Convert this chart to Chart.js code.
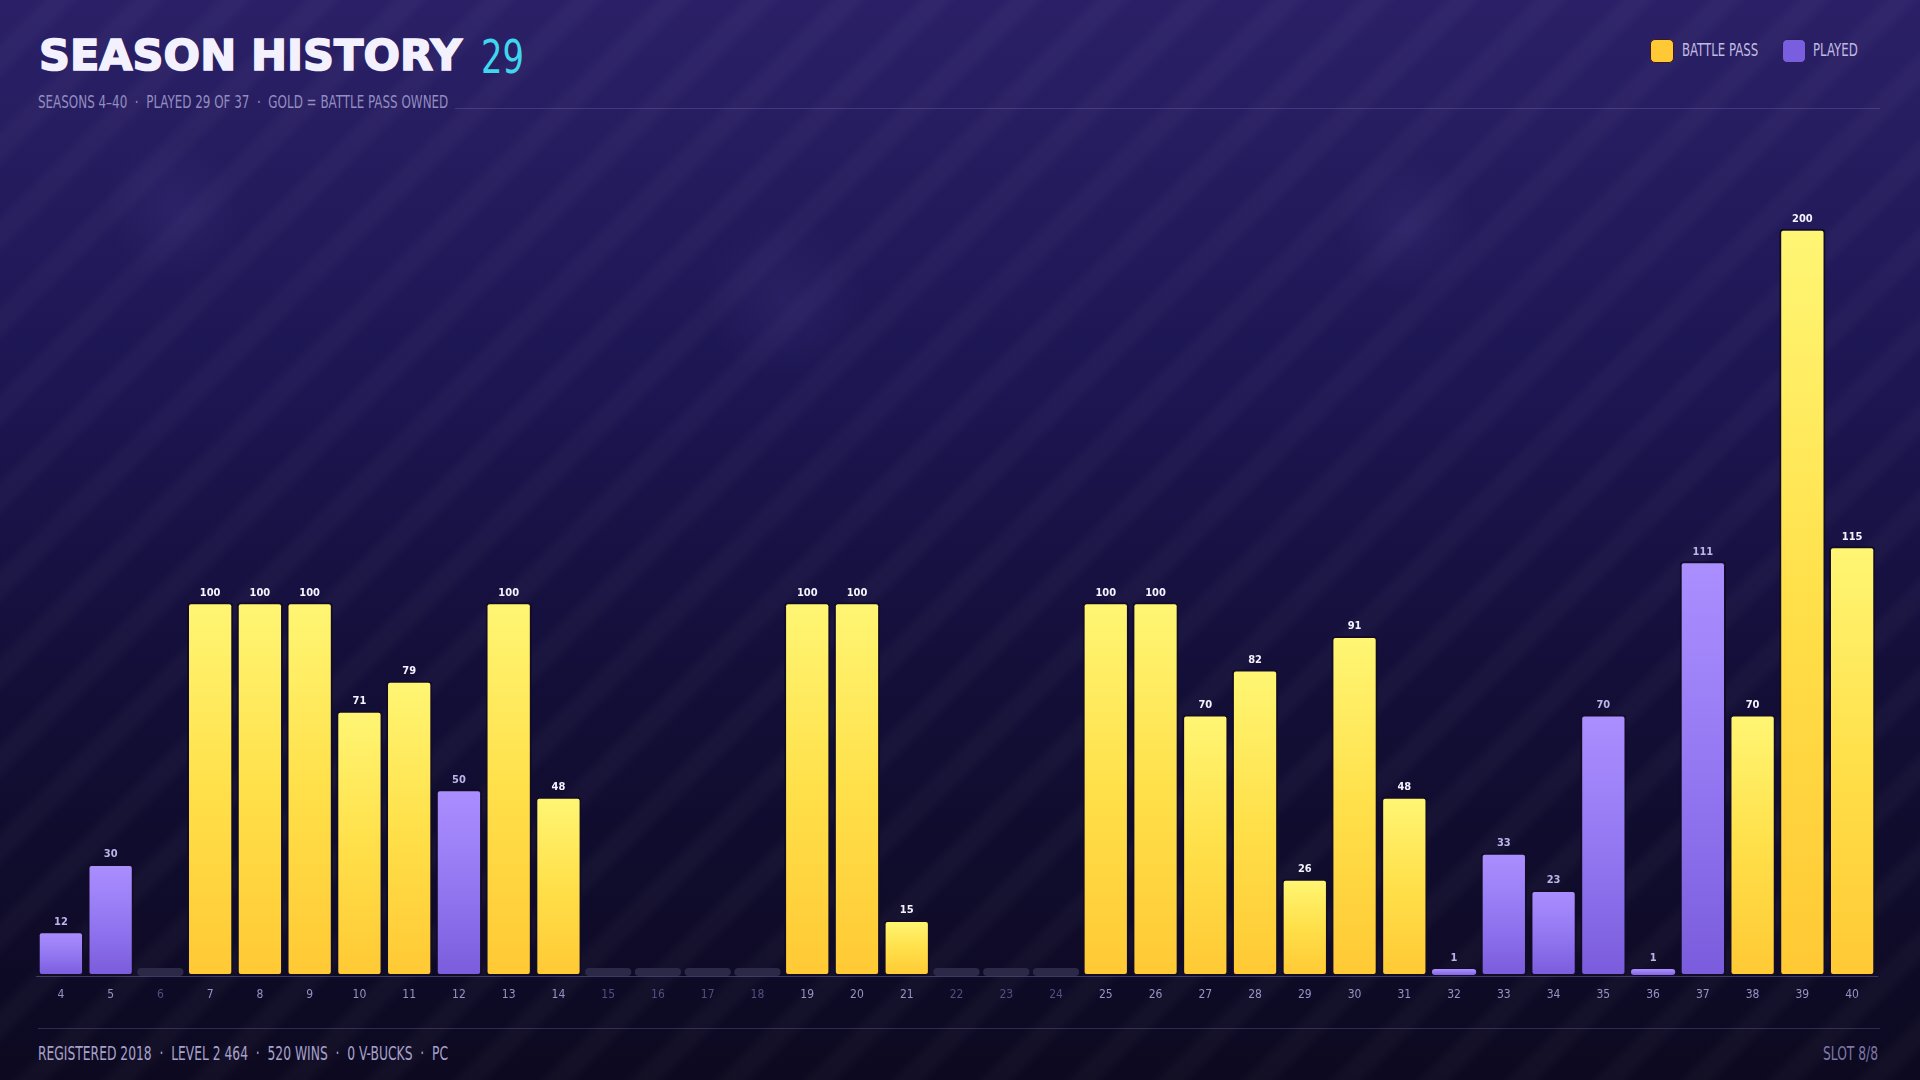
<!DOCTYPE html>
<html>
<head>
<meta charset="utf-8">
<script src="https://cdn.jsdelivr.net/npm/chart.js@4/dist/chart.umd.min.js"></script>
<style>
  html, body { margin: 0; padding: 0; }
  body {
    width: 1920px; height: 1080px; overflow: hidden; position: relative;
    background:
      radial-gradient(circle at 175px 210px, rgba(120,100,200,0.10) 0, rgba(120,100,200,0) 70px),
      radial-gradient(circle at 785px 300px, rgba(120,100,200,0.10) 0, rgba(120,100,200,0) 80px),
      radial-gradient(circle at 1405px 225px, rgba(120,100,200,0.10) 0, rgba(120,100,200,0) 70px),
      repeating-linear-gradient(135deg, rgba(255,255,255,0) 0 26px, rgba(255,255,255,0.028) 36px 48px, rgba(255,255,255,0) 58px 62px),
      linear-gradient(180deg, #2b2067 0%, #1d1653 35%, #130e36 65%, #0c0920 100%);
    font-family: "DejaVu Sans Condensed", "Liberation Sans Narrow", sans-serif;
  }
  #chart { position: absolute; left: 0; top: 0; }
  .title { position: absolute; left: 39px; top: 30px; font-family: "DejaVu Sans", sans-serif; font-weight: bold;
    font-size: 43px; color: #f4f1ff; -webkit-text-stroke: 1.6px #f4f1ff; }
  .narrow { transform-origin: left center; white-space: pre; }
  .count { position: absolute; left: 481px; top: 29px; font-size: 47px; color: #3fd6ee; transform: scaleX(0.8); }
  .sub { position: absolute; left: 38px; top: 92px; font-size: 17px; color: #938dc0; transform: scaleX(0.78); }
  .hline { position: absolute; height: 1px; background: rgba(140,125,210,0.28); }
  .legend { position: absolute; top: 38px; left: 1650px; font-size: 17px; color: #c0bbe0; }
  .legend .sw { position: absolute; top: 1px; width: 22px; height: 22px; border-radius: 5px; border: 1px solid #3a1a20; }
  .legend .lt { position: absolute; top: 2px; transform: scaleX(0.77); }
  .foot { position: absolute; top: 1042px; font-size: 19px; color: #a7a2cc; transform: scaleX(0.72); }
</style>
</head>
<body>
<div class="title">SEASON HISTORY</div>
<div class="count narrow" id="count"></div>
<div class="sub narrow" id="sub"></div>
<div class="hline" style="left:455px; width:1425px; top:108px;"></div>
<div class="legend">
  <div class="sw" style="left:0; background:#ffc935"></div>
  <div class="lt narrow" style="left:32px;">BATTLE PASS</div>
  <div class="sw" style="left:132px; background:#7a5ee0; border-color:#2a1d5a"></div>
  <div class="lt narrow" style="left:163px;">PLAYED</div>
</div>
<div class="hline" style="left:38px; width:1842px; top:1028px;"></div>
<div class="foot narrow" id="footLeft" style="left:38px;"></div>
<div class="foot narrow" style="left:1823px; color:#7e78a8;">SLOT 8/8</div>
<canvas id="chart" width="1920" height="1080"></canvas>

<script>
// seasons 4..40
const seasons = ['4','5','6','7','8','9','10','11','12','13','14','15','16','17','18','19','20','21','22',
  '23','24','25','26','27','28','29','30','31','32','33','34','35','36','37','38','39','40']
// level reached each season (0 = not played)
const levels = [12, 30, 0, 100, 100, 100, 71, 79, 50, 100, 48, 0, 0, 0, 0, 100, 100, 15, 0,
  0, 0, 100, 100, 70, 82, 26, 91, 48, 1, 33, 23, 70, 1, 111, 70, 200, 115]
// seasons with the battle pass owned
const battlePass = ['7','8','9','10','11','13','14','19','20','21','25','26','27','28','29','30','31','38','39','40']

const played = levels.filter(v => v > 0).length
document.querySelector('#count').innerText = played
document.querySelector('#sub').innerText = `SEASONS 4–40  ·  PLAYED ${played} OF ${seasons.length}  ·  GOLD = BATTLE PASS OWNED`
document.querySelector('#footLeft').innerText = 'REGISTERED 2018  ·  LEVEL 2 464  ·  520 WINS  ·  0 V-BUCKS  ·  PC'

const NARROW = '"DejaVu Sans Condensed", "Liberation Sans Narrow", sans-serif'

function barFill(context) {
  let i = context.dataIndex
  let v = levels[i]
  if (!v) return '#2c2848'
  let chart = context.chart
  let gold = battlePass.includes(seasons[i])
  if (!chart.chartArea) return gold ? '#ffd23f' : '#8b6ef0'
  let y = chart.scales.y
  let bottom = y.getPixelForValue(0)
  let top = Math.min(y.getPixelForValue(v), bottom - 7)
  let g = chart.ctx.createLinearGradient(0, top, 0, bottom)
  if (gold) {
    g.addColorStop(0, '#fff674')
    g.addColorStop(0.5, '#ffe04a')
    g.addColorStop(1, '#ffc934')
  } else {
    g.addColorStop(0, '#ab8fff')
    g.addColorStop(0.5, '#9478f2')
    g.addColorStop(1, '#7a5cdc')
  }
  return g
}

const valueLabels = {
  id: 'valueLabels',
  afterDatasetsDraw(chart) {
    let ctx = chart.ctx
    let meta = chart.getDatasetMeta(0)
    ctx.save()
    ctx.font = `bold 11px ${NARROW}`
    ctx.textAlign = 'center'
    ctx.textBaseline = 'bottom'
    meta.data.forEach((bar, i) => {
      if (!levels[i]) return
      ctx.fillStyle = battlePass.includes(seasons[i]) ? '#f6f3ff' : '#bdb4ea'
      ctx.fillText(levels[i], bar.x, bar.y - 4)
    })
    ctx.restore()
  }
}

new Chart(document.querySelector('#chart').getContext('2d'), {
  type: 'bar',
  data: {
    labels: seasons,
    datasets: [{
      data: levels,
      backgroundColor: barFill,
      borderColor: ctx => levels[ctx.dataIndex] ? '#130c26' : 'rgba(0,0,0,0)',
      borderWidth: ctx => {
        let v = levels[ctx.dataIndex]
        return v >= 5 ? 2 : (v ? 1 : 0)
      },
      borderRadius: 4,
      borderSkipped: false,
      minBarLength: 8,
      barPercentage: 0.93,
      categoryPercentage: 1
    }]
  },
  options: {
    responsive: false,
    animation: false,
    devicePixelRatio: 1,
    layout: { padding: { left: 36, right: 43, top: 154, bottom: 74 } },
    plugins: { legend: { display: false }, tooltip: { enabled: false } },
    scales: {
      x: {
        grid: { display: false },
        border: { display: true, color: 'rgba(150,140,210,0.35)', width: 1 },
        ticks: {
          color: ctx => levels[ctx.index] ? '#9891c4' : '#544d80',
          font: { family: NARROW, size: 12 },
          padding: 4,
          maxRotation: 0,
          autoSkip: false
        },
        afterFit: s => { s.height = 30 }
      },
      y: { display: false, min: 0, max: 220 }
    }
  },
  plugins: [valueLabels]
})
</script>
</body>
</html>
